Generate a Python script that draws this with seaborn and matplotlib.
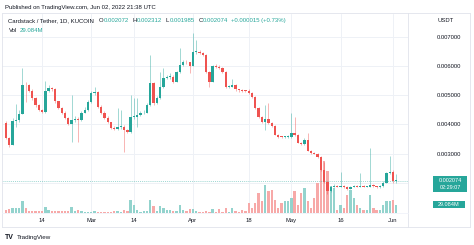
import numpy as np
import pandas as pd
import matplotlib
matplotlib.use("Agg")
import matplotlib.pyplot as plt
import seaborn as sns
from matplotlib.patches import Rectangle
from matplotlib.lines import Line2D
from matplotlib.transforms import blended_transform_factory

# ---------------- data (prices in units of 1e-6 USDT, volume in millions) -------------
dates = pd.date_range("2022-02-03", "2022-06-02", freq="D")

opens_e6 = [4050, 3530, 3300, 4120, 4160, 4360, 5360, 5340, 5150, 4900,
            4670, 4500, 4430, 5150, 5250, 5200, 4800, 4570, 4400, 4230,
            4020, 4160, 4190, 4160, 4400, 4500, 4780, 5080, 5120, 4600,
            4400, 4230, 4090, 3880, 3850, 3920, 3920, 3810, 3750, 4260,
            4270, 4330, 4380, 4400, 4670, 5420, 4740, 4910, 5300, 5600,
            5630, 5640, 5460, 5800, 6040, 6150, 6130, 6010, 6490, 6490,
            6460, 6380, 5800, 5460, 6010, 5970, 5940, 5800, 5290, 5300,
            5360, 5200, 5170, 5150, 5140, 5080, 4950, 4570, 4260, 4090,
            4190, 4050, 3950, 3650, 3580, 3570, 3570, 3580, 3700, 3640,
            3380, 3330, 3470, 3100, 3030, 3000, 2890, 2450, 2030, 1700,
            1860, 1880, 1870, 1880, 1860, 1800, 1860, 1880, 1870, 1880,
            1870, 1870, 1920, 1880, 1850, 1880, 2000, 2340, 2380, 2072]

closes_e6 = [3530, 3300, 4120, 4160, 4360, 5360, 5340, 5150, 4900, 4670,
             4500, 4430, 5150, 5250, 5200, 4800, 4570, 4400, 4230, 4020,
             4160, 4190, 4160, 4400, 4500, 4780, 5080, 5120, 4600, 4400,
             4230, 4090, 3880, 3850, 3920, 3920, 3810, 3750, 4260, 4270,
             4330, 4380, 4400, 4670, 5420, 4740, 4910, 5300, 5600, 5630,
             5640, 5460, 5800, 6040, 6150, 6130, 6010, 6490, 6490, 6460,
             6380, 5800, 5460, 6010, 5970, 5940, 5800, 5290, 5300, 5360,
             5200, 5170, 5150, 5140, 5080, 4950, 4570, 4260, 4090, 4190,
             4050, 3950, 3650, 3580, 3570, 3570, 3580, 3700, 3640, 3380,
             3330, 3470, 3100, 3030, 3000, 2890, 2450, 2030, 1700, 1860,
             1880, 1870, 1880, 1860, 1800, 1860, 1880, 1870, 1880, 1870,
             1870, 1920, 1880, 1850, 1880, 2000, 2340, 2380, 2059, 2074]

highs_e6 = [4110, 3560, 4220, 4700, 4480, 5940, 5450, 5400, 5200, 4950,
            4700, 4520, 5500, 5350, 5300, 5250, 4820, 4600, 4450, 4250,
            5010, 4300, 4250, 4450, 4600, 4850, 5150, 5300, 5150, 4650,
            4450, 4300, 4100, 3950, 4570, 4500, 3980, 3850, 5010, 4900,
            4900, 4450, 4480, 4720, 6380, 5450, 4980, 5800, 5940, 5700,
            5750, 5700, 5850, 6620, 6200, 6200, 6150, 7140, 6900, 6550,
            6500, 6400, 5820, 6050, 6080, 6050, 5980, 5850, 5360, 5550,
            5400, 5230, 5220, 5190, 5200, 5100, 4980, 4600, 4300, 4670,
            4740, 4100, 3980, 3680, 3620, 3620, 3640, 4400, 4270, 3680,
            3400, 3520, 3710, 3120, 3070, 3020, 2920, 2700, 2060, 1900,
            1950, 1920, 2380, 1910, 1880, 1900, 1930, 1920, 2350, 1910,
            1900, 3200, 1950, 1900, 1920, 2050, 2380, 2920, 2440, 2312]

lows_e6 = [3500, 3230, 3280, 3920, 4100, 4350, 4780, 5100, 4850, 4600,
           4450, 4380, 4400, 5100, 5150, 4750, 4520, 4350, 4200, 3980,
           3400, 4100, 3400, 4130, 4380, 4460, 4750, 5000, 4550, 4350,
           4200, 4050, 3850, 3800, 3820, 3850, 3060, 3700, 3720, 4200,
           3920, 4300, 4350, 4380, 4640, 4680, 4700, 4880, 5250, 5550,
           5560, 5430, 5440, 5780, 6000, 6080, 5770, 5990, 6400, 6420,
           6350, 5780, 5280, 5440, 5940, 5900, 5760, 5250, 5240, 5270,
           5150, 5130, 5120, 5100, 5050, 4920, 4520, 4230, 4050, 3820,
           4000, 3900, 3630, 3540, 3540, 3540, 3540, 3550, 3610, 3350,
           3300, 3310, 3080, 3000, 2970, 2860, 2420, 2000, 1630, 1680,
           1840, 1840, 1850, 1830, 1760, 1780, 1850, 1840, 1850, 1840,
           1840, 1850, 1860, 1820, 1830, 1860, 1980, 2300, 2000, 1985]

volumes_m = [11, 14, 18, 18, 18, 44, 18, 7, 7, 7,
             7, 7, 22, 11, 7, 7, 7, 7, 7, 7,
             22, 7, 11, 7, 5, 5, 5, 7, 5, 5,
             5, 4, 5, 7, 7, 5, 11, 7, 47, 29,
             11, 4, 7, 7, 47, 25, 7, 25, 18, 11,
             11, 7, 7, 29, 11, 7, 15, 15, 7, 5,
             5, 7, 5, 15, 5, 15, 5, 18, 5, 18,
             7, 5, 11, 7, 36, 18, 36, 73, 44, 102,
             80, 84, 47, 18, 36, 44, 44, 55, 80, 29,
             73, 91, 44, 18, 55, 109, 182, 189, 153, 98,
             91, 11, 29, 18, 66, 84, 55, 29, 18, 11,
             11, 66, 18, 11, 11, 29, 44, 44, 47, 29.084]

price_ticks = [0.007, 0.006, 0.005, 0.004, 0.003]
price_tick_labels = ["0.007000", "0.006000", "0.005000", "0.004000", "0.003000"]
date_ticks = ["2022-02-14", "2022-03-01", "2022-03-14", "2022-04-01",
              "2022-04-18", "2022-05-01", "2022-05-16", "2022-06-01"]
date_tick_labels = ["14", "Mar", "14", "Apr", "18", "May", "16", "Jun"]
last_price = 0.002074

# ---------------- style -------------
GREEN = "#26a69a"
RED = "#ef5350"
VOL_UP = "#93d3cd"
VOL_DN = "#f7a9a8"
TXT = "#131722"
GRID = "#eef1f6"
BORDER = "#e0e3eb"

sns.set_theme(style="white")
plt.rcParams["font.family"] = ["Liberation Sans", "DejaVu Sans"]

W, H = 474, 245
fig = plt.figure(figsize=(W / 100, H / 100), dpi=100)
fig.patch.set_facecolor("white")

def fx(x):
    return x / W

def fy(y):
    return 1 - y / H

left_px, right_px, top_px, bot_px = 2, 408, 14, 213
rect = [fx(left_px), fy(bot_px), (right_px - left_px) / W, (bot_px - top_px) / H]

ax_vol = fig.add_axes(rect)
ax = fig.add_axes(rect)
ax.patch.set_alpha(0)

scale = 1e-6
o = np.array(opens_e6) * scale
c = np.array(closes_e6) * scale
hi = np.array(highs_e6) * scale
lo = np.array(lows_e6) * scale
pos = (dates - dates[0]).days.values
up = c >= o

xlim = (-1.22, 122.56)
ylim = (0.000962, 0.007789)

# volume bars (seaborn)
df = pd.DataFrame({"pos": pos, "vol": volumes_m, "dir": np.where(up, "up", "down")})
sns.barplot(data=df, x="pos", y="vol", hue="dir", palette={"up": VOL_UP, "down": VOL_DN},
            native_scale=True, dodge=False, width=0.7, errorbar=None, legend=False,
            saturation=1, linewidth=0, ax=ax_vol)
ax_vol.set_xlim(*xlim)
ax_vol.set_ylim(0, 724)
ax_vol.set_xticks([])
ax_vol.set_yticks([])
ax_vol.set_xlabel("")
ax_vol.set_ylabel("")
for s in ax_vol.spines.values():
    s.set_visible(False)

# grid lines (behind volume)
tick_pos = [(pd.Timestamp(d) - dates[0]).days for d in date_ticks]
for t in tick_pos:
    ax_vol.axvline(t, color=GRID, lw=0.7, zorder=0)
btrans = blended_transform_factory(ax_vol.transAxes, ax.transData)
for p in price_ticks + [0.002]:
    ax_vol.add_line(Line2D([0, 1], [p, p], transform=btrans, color=GRID, lw=0.7, zorder=0))

# candles
colors = np.where(up, GREEN, RED)
ax.vlines(pos, lo, hi, colors=colors, linewidth=0.55, alpha=0.55, zorder=2)
body = np.maximum(np.abs(c - o), 2.8e-5)
ax.bar(pos, body, bottom=np.minimum(o, c), width=0.7, color=colors, linewidth=0, zorder=3)

ax.axhline(last_price, color=GREEN, lw=0.5, ls=(0, (1.5, 1.5)), alpha=0.6, zorder=1)

ax.set_xlim(*xlim)
ax.set_ylim(*ylim)
ax.yaxis.tick_right()
ax.set_yticks(price_ticks)
ax.set_yticklabels(price_tick_labels)
ax.set_xticks(tick_pos)
ax.set_xticklabels(date_tick_labels)
ax.tick_params(axis="y", length=0, pad=20.6, labelsize=4.2, labelcolor=TXT)
ax.tick_params(axis="x", length=0, pad=3.4, labelsize=4.2, labelcolor=TXT)
for s in ax.spines.values():
    s.set_visible(False)

# frame lines
def fline(x0, y0, x1, y1, color=BORDER, lw=0.6):
    fig.add_artist(Line2D([fx(x0), fx(x1)], [fy(y0), fy(y1)], transform=fig.transFigure,
                          color=color, lw=lw))

fline(2, 13, 470, 13)
fline(2, 227, 470, 227)
fline(2, 13, 2, 227)
fline(470, 13, 470, 227)
fline(408, 13, 408, 227)
fline(2, 213, 408, 213, color="#f0f3fa")

# texts
def ftext(x, y, s, size=4.0, color=TXT, ha="left", **kw):
    return fig.text(fx(x), fy(y), s, fontsize=size, color=color, ha=ha, va="center", **kw)

renderer = fig.canvas.get_renderer()

def text_run(x, y, parts, size):
    """Place text segments one after another; parts = (text, color, gap_after_px)."""
    for s, col, gap in parts:
        t = ftext(x, y, s, size=size, color=col)
        bb = t.get_window_extent(renderer=renderer)
        x += bb.width + gap

ftext(5, 7, "Published on TradingView.com, Jun 02, 2022 21:38 UTC", size=4.3)
text_run(8.5, 20.5, [("Cardstack / Tether, 1D, KUCOIN", TXT, 4.5),
                     ("O", TXT, 0.3), ("0.002072", GREEN, 3.5),
                     ("H", TXT, 0.3), ("0.002312", GREEN, 3.5),
                     ("L", TXT, 0.3), ("0.001985", GREEN, 3.5),
                     ("C", TXT, 0.3), ("0.002074", GREEN, 3.0),
                     ("+0.000015 (+0.73%)", GREEN, 0)], size=4.3)
text_run(8.5, 30.5, [("Vol", TXT, 2.5), ("29.084M", GREEN, 0)], size=4.3)
ftext(438, 20.5, "USDT", size=4.2)

# price / volume boxes
fig.add_artist(Rectangle((fx(433), fy(192)), 34 / W, 16 / H, transform=fig.transFigure,
                         color=GREEN, lw=0))
ftext(450, 180.8, "0.002074", size=4.0, color="white", ha="center")
ftext(450, 187.6, "02:29:07", size=4.0, color="white", ha="center")
fig.add_artist(Rectangle((fx(433), fy(208)), 32 / W, 7.5 / H, transform=fig.transFigure,
                         color=GREEN, lw=0))
ftext(449, 204.3, "29.084M", size=4.0, color="white", ha="center")

# logo
ftext(5, 237.5, "TV", size=5.0, weight="bold")
ftext(16.5, 237.5, "TradingView", size=4.5)

fig.savefig("out.png", dpi=100)
